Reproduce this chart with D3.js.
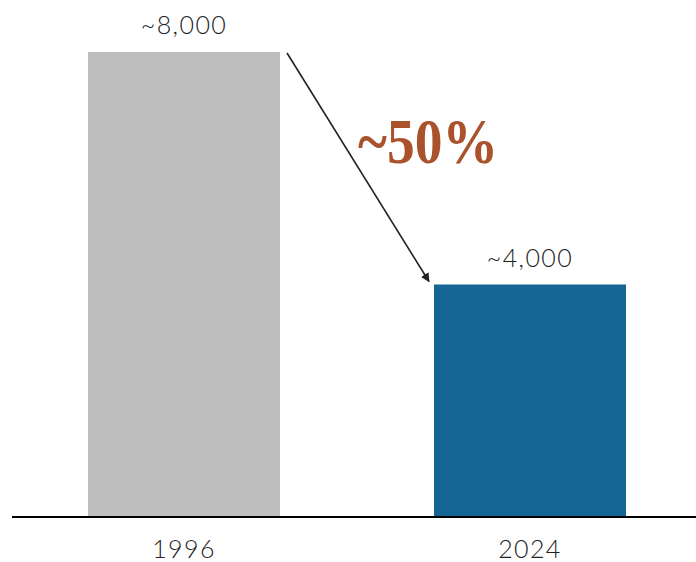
<!DOCTYPE html>
<html>
<head>
<meta charset="utf-8">
<script src="https://cdn.jsdelivr.net/npm/d3@7"></script>
<style>
  body { margin: 0; background: #fff; }
  svg text { font-family: 'Lato', 'Open Sans', sans-serif; }
</style>
</head>
<body>
<div id="chart"></div>
<script>
// Chart data
const years = ['1996', '2024']
const values = [8000, 4000]
const valueLabels = ['~8,000', '~4,000']
const changeLabel = '~50%'
const barColors = ['#bebebe', '#156594']

const width = 696
const height = 562
const baseY = 517

const svg = d3.select('#chart')
    .append('svg')
    .attr('width', width)
    .attr('height', height)

const x = d3.scaleBand()
    .domain(years)
    .range([88, 626])
    .paddingInner(0.445)
    .paddingOuter(0)

const y = d3.scaleLinear()
    .domain([0, 8000])
    .range([baseY, 52])

const data = years.map((d, i) => ({ year: d, value: values[i], label: valueLabels[i], color: barColors[i] }))

svg.selectAll('.bar')
    .data(data)
    .join('rect')
    .classed('bar', true)
    .attr('x', d => x(d.year))
    .attr('y', d => y(d.value))
    .attr('width', x.bandwidth())
    .attr('height', d => baseY - y(d.value))
    .attr('fill', d => d.color)

// baseline
svg.append('line')
    .attr('x1', 12)
    .attr('x2', width)
    .attr('y1', baseY)
    .attr('y2', baseY)
    .attr('stroke', '#000')
    .attr('stroke-width', 2)

// value labels
svg.selectAll('.val-label')
    .data(data)
    .join('text')
    .classed('val-label', true)
    .attr('x', d => x(d.year) + x.bandwidth() / 2)
    .attr('y', d => y(d.value) - 18)
    .attr('text-anchor', 'middle')
    .attr('font-size', '25px')
    .attr('font-weight', 300)
    .attr('letter-spacing', '1.4px')
    .attr('fill', '#222')
    .text(d => d.label)

// year labels
svg.selectAll('.year-label')
    .data(data)
    .join('text')
    .classed('year-label', true)
    .attr('x', d => x(d.year) + x.bandwidth() / 2)
    .attr('y', 558)
    .attr('text-anchor', 'middle')
    .attr('font-size', '25px')
    .attr('font-weight', 300)
    .attr('letter-spacing', '1.4px')
    .attr('fill', '#222')
    .text(d => d.year)

// arrow marker
svg.append('defs')
    .append('marker')
    .attr('id', 'arrowhead')
    .attr('viewBox', '0 0 10 10')
    .attr('refX', 9)
    .attr('refY', 5)
    .attr('markerWidth', 9)
    .attr('markerHeight', 9)
    .attr('markerUnits', 'userSpaceOnUse')
    .attr('orient', 'auto')
    .append('path')
    .attr('d', 'M0,0 L10,5 L0,10 Z')
    .attr('fill', '#222')

const x1 = x(years[0]) + x.bandwidth() + 7
const y1 = y(values[0]) + 1
const x2 = x(years[1]) - 5
const y2 = y(values[1]) - 3

svg.append('line')
    .attr('x1', x1)
    .attr('y1', y1)
    .attr('x2', x2)
    .attr('y2', y2)
    .attr('stroke', '#222')
    .attr('stroke-width', 1.6)
    .attr('marker-end', 'url(#arrowhead)')

svg.append('text')
    .attr('x', 358)
    .attr('y', 163)
    .attr('font-size', '63px')
    .attr('font-weight', 'bold')
    .attr('textLength', 140)
    .attr('lengthAdjust', 'spacingAndGlyphs')
    .style('font-family', "'Liberation Serif', 'DejaVu Serif', serif")
    .attr('fill', '#a9522b')
    .text(changeLabel)
</script>
</body>
</html>
